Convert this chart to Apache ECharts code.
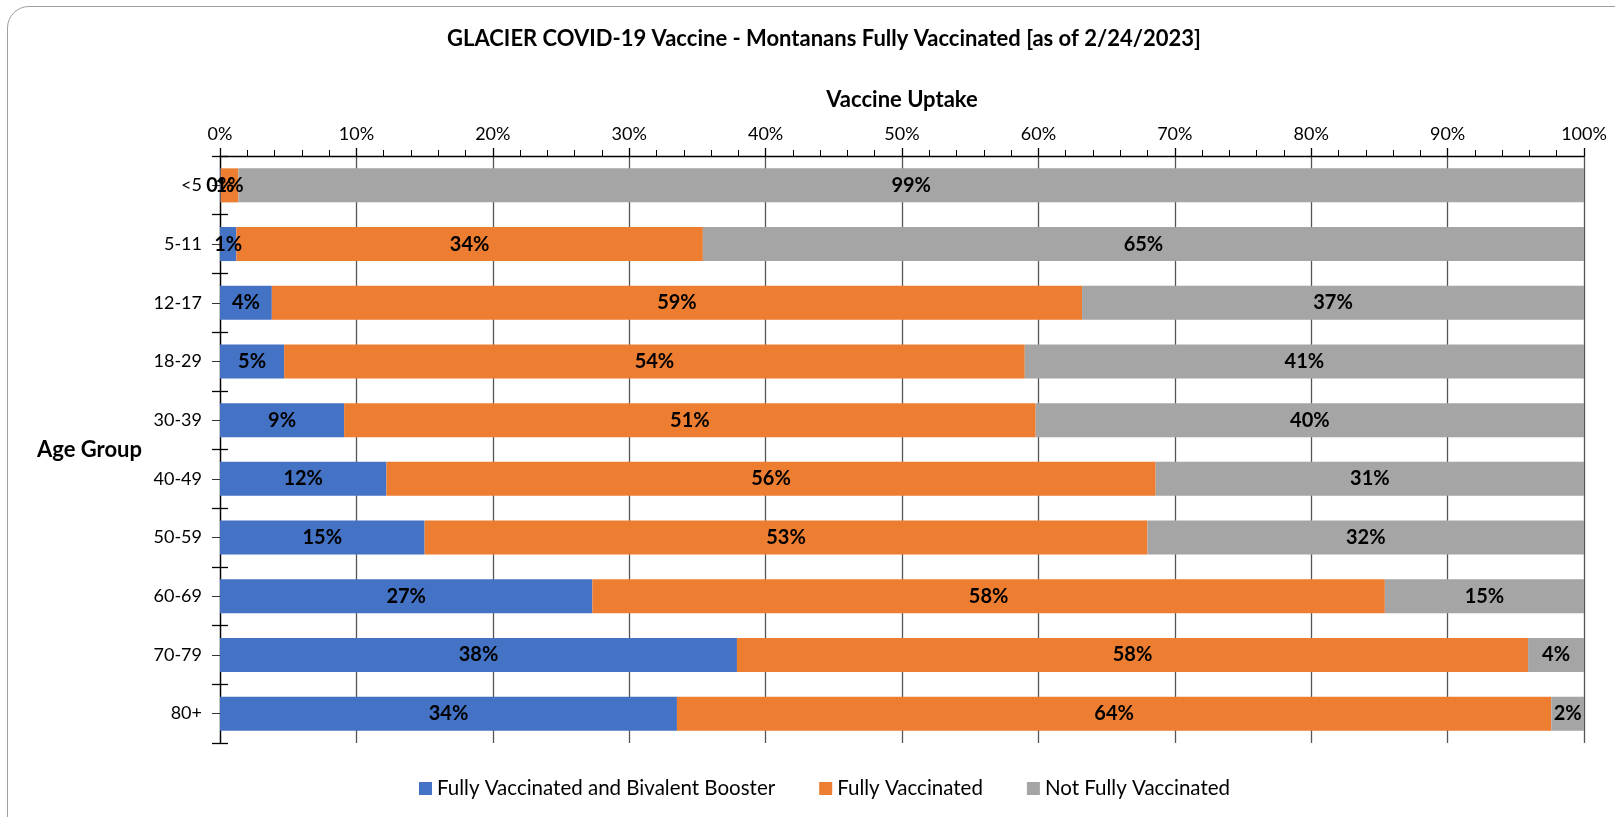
<!DOCTYPE html>
<html>
<head>
<meta charset="utf-8">
<script src="https://cdn.jsdelivr.net/npm/echarts@6/dist/echarts.min.js"></script>
<style>
  html, body { margin: 0; padding: 0; background: #fff; overflow: hidden; }
  #frame { position: absolute; left: 7px; top: 6px; width: 1660px; height: 860px;
           border: 1.5px solid #a0a0a0; border-radius: 22px; }
  #main { position: absolute; left: 0; top: 0; width: 1615px; height: 817px; }
</style>
</head>
<body>
<div id="frame"></div>
<div id="main"></div>
<script>
// age groups, top to bottom
var ageGroups = ["<5", "5-11", "12-17", "18-29", "30-39", "40-49", "50-59", "60-69", "70-79", "80+"];

// percent of each age group
var boosted = [0.05, 1.2, 3.8, 4.7, 9.1, 12.2, 15.0, 27.3, 37.9, 33.5];
var fullyVax = [1.3, 34.2, 59.4, 54.3, 50.7, 56.4, 53.0, 58.1, 58.0, 64.1];
var notFully = [98.65, 64.6, 36.8, 41.0, 40.2, 31.4, 32.0, 14.6, 4.1, 2.4];

var FONT = "Lato, 'Open Sans', sans-serif";

var chart = echarts.init(document.getElementById("main"));

function seriesFor(name, data, color) {
  return {
    name: name,
    type: "bar",
    stack: "total",
    barCategoryGap: "42%",
    data: data,
    itemStyle: { color: color },
    label: {
      show: true,
      position: "inside",
      color: "#000",
      fontFamily: FONT,
      fontWeight: "bold",
      fontSize: 20,
      formatter: function (p) { return Math.round(p.value) + "%"; }
    }
  };
}

var option = {
  animation: false,
  textStyle: { fontFamily: FONT },
  title: {
    text: "GLACIER COVID-19 Vaccine - Montanans Fully Vaccinated [as of 2/24/2023]",
    left: 819,
    textAlign: "center",
    top: 23,
    textStyle: { fontFamily: FONT, fontWeight: "bold", fontSize: 22, color: "#000" }
  },
  legend: {
    bottom: 13,
    left: 414,
    itemWidth: 13,
    itemHeight: 13,
    itemGap: 44,
    icon: "rect",
    textStyle: { fontFamily: FONT, fontSize: 20.5, color: "#000" }
  },
  grid: { left: 220, right: 31, top: 156, bottom: 74 },
  xAxis: [
    {
      type: "value",
      position: "top",
      min: 0,
      max: 100,
      interval: 10,
      name: "Vaccine Uptake",
      nameLocation: "middle",
      nameGap: 45,
      nameTextStyle: { fontFamily: FONT, fontWeight: "bold", fontSize: 22, color: "#000" },
      axisLine: { show: true, lineStyle: { color: "#000", width: 1.3 } },
      axisTick: { show: true, length: 8, lineStyle: { color: "#000", width: 1.3 } },
      minorTick: { show: true, splitNumber: 5, length: 6, lineStyle: { color: "#000" } },
      axisLabel: { fontFamily: FONT, fontSize: 18, color: "#000", margin: 13,
                   formatter: "{value}%" },
      splitLine: { show: true, lineStyle: { color: "#555", width: 1.3 } }
    },
    {
      type: "value",
      position: "top",
      min: 0,
      max: 100,
      interval: 10,
      axisLine: { show: false },
      axisTick: { show: false },
      minorTick: { show: true, splitNumber: 5, length: 6, inside: true, lineStyle: { color: "#000" } },
      axisLabel: { show: false },
      splitLine: { show: false }
    }
  ],
  yAxis: [
    {
      type: "category",
      data: ageGroups,
      inverse: true,
      name: "Age Group",
      nameLocation: "middle",
      nameRotate: 0,
      nameGap: 78,
      nameTextStyle: { fontFamily: FONT, fontWeight: "bold", fontSize: 22, color: "#000", align: "right" },
      axisLine: { show: true, lineStyle: { color: "#000", width: 1.3 } },
      axisTick: { show: true, length: 8, lineStyle: { color: "#000", width: 1.3 } },
      axisLabel: { fontFamily: FONT, fontSize: 18, color: "#000", margin: 18 }
    },
    {
      type: "category",
      data: ageGroups,
      inverse: true,
      position: "left",
      axisLine: { show: false },
      axisTick: { show: true, inside: true, length: 8, lineStyle: { color: "#000", width: 1.3 } },
      axisLabel: { show: false }
    },
    {
      type: "category",
      data: ageGroups,
      inverse: true,
      position: "left",
      axisLine: { show: false },
      axisTick: { show: true, alignWithLabel: true, length: 8, lineStyle: { color: "#333", width: 1 } },
      axisLabel: { show: false }
    }
  ],
  series: [
    seriesFor("Fully Vaccinated and Bivalent Booster", boosted, "#4472C4"),
    seriesFor("Fully Vaccinated", fullyVax, "#ED7D31"),
    seriesFor("Not Fully Vaccinated", notFully, "#A5A5A5")
  ]
};

chart.setOption(option);
</script>
</body>
</html>
